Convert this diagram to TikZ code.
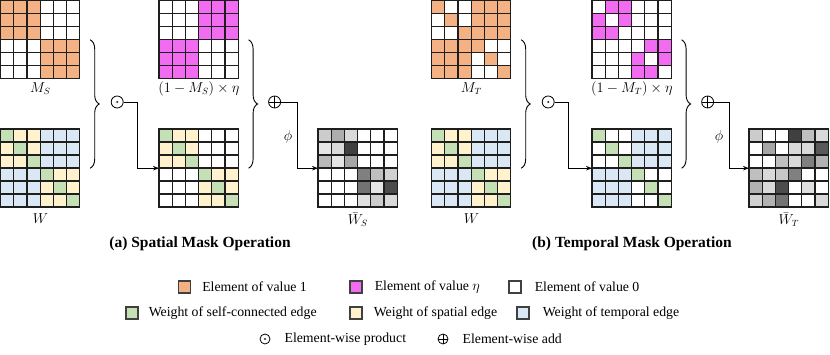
\documentclass[tikz,border=0pt]{standalone}
\usepackage{fontspec}
\setmainfont{Liberation Serif}
\usetikzlibrary{calc,decorations.pathreplacing,arrows.meta}
\definecolor{org}{RGB}{244,177,131}
\definecolor{pnk}{RGB}{242,108,242}
\definecolor{grn}{RGB}{197,224,180}
\definecolor{ylw}{RGB}{255,242,204}
\definecolor{blu}{RGB}{218,232,245}
\definecolor{dotc}{RGB}{30,40,90}
\definecolor{gline}{RGB}{30,30,30}
\newcommand{\cellgrid}[2]{%
  \foreach \rowlist [count=\ri from 0] in {#2} {%
    \foreach \cc [count=\ci from 0] in \rowlist {%
      \draw[cell,fill=\cc] ($(#1.north west)+(\ci*13.2,\ri*13)$) rectangle ++(13.2,13);
    }
  }%
}
\begin{document}
\begin{tikzpicture}[x=1pt,y=-1pt,
  cell/.style={draw=gline,line width=1.1pt},
  gridbox/.style={minimum width=79.2pt,minimum height=78pt,inner sep=0pt,anchor=north west},
  lbl/.style={font=\fontsize{13.5}{16}\selectfont,inner sep=0pt},
  captxt/.style={font=\fontsize{15.5}{18}\selectfont\bfseries,inner sep=0pt},
  legtxt/.style={font=\fontsize{13.8}{16}\selectfont,inner sep=0pt,anchor=west},
  swatch/.style={draw=black!75,line width=1.1pt,minimum width=12pt,minimum height=12pt,inner sep=0pt},
  bracestyle/.style={decorate,decoration={brace,amplitude=9pt},line width=0.9pt},
  conn/.style={line width=0.9pt,-{Stealth[length=6pt,width=4.5pt]}},
  odotsym/.style={circle,draw,line width=0.8pt,minimum size=#1,inner sep=0pt,
    path picture={\fill[dotc] (path picture bounding box.center) circle (1.1pt);}},
  oplussym/.style={circle,draw,line width=0.8pt,minimum size=#1,inner sep=0pt,
    path picture={\draw[line width=0.8pt] (path picture bounding box.north) -- (path picture bounding box.south)
      (path picture bounding box.west) -- (path picture bounding box.east);}}
]
\useasboundingbox (0,0) rectangle (830,355);
\fill[white] (0,0) rectangle (830,355);

% ---------- grid frames ----------
\node[gridbox] (gMS) at (0.6,0.6) {};
\node[gridbox] (gW1) at (0.6,129) {};
\node[gridbox] (gP1) at (159,0.6) {};
\node[gridbox] (gM1) at (159,129) {};
\node[gridbox] (gWS) at (318,129) {};
\node[gridbox] (gMT) at (431.6,0.6) {};
\node[gridbox] (gW2) at (431.6,129) {};
\node[gridbox] (gP2) at (592,0.6) {};
\node[gridbox] (gM2) at (592,129) {};
\node[gridbox] (gWT) at (749,129) {};

% ---------- spatial ----------
\cellgrid{gMS}{{org,org,org,white,white,white},{org,org,org,white,white,white},{org,org,org,white,white,white},
  {white,white,white,org,org,org},{white,white,white,org,org,org},{white,white,white,org,org,org}}
\cellgrid{gW1}{{grn,ylw,ylw,blu,blu,blu},{ylw,grn,ylw,blu,blu,blu},{ylw,ylw,grn,blu,blu,blu},
  {blu,blu,blu,grn,ylw,ylw},{blu,blu,blu,ylw,grn,ylw},{blu,blu,blu,ylw,ylw,grn}}
\cellgrid{gP1}{{white,white,white,pnk,pnk,pnk},{white,white,white,pnk,pnk,pnk},{white,white,white,pnk,pnk,pnk},
  {pnk,pnk,pnk,white,white,white},{pnk,pnk,pnk,white,white,white},{pnk,pnk,pnk,white,white,white}}
\cellgrid{gM1}{{grn,ylw,ylw,white,white,white},{ylw,grn,ylw,white,white,white},{ylw,ylw,grn,white,white,white},
  {white,white,white,grn,ylw,ylw},{white,white,white,ylw,grn,ylw},{white,white,white,ylw,ylw,grn}}
\cellgrid{gWS}{{black!20,black!32,black!15,white,white,white},{black!10,black!15,black!75,white,white,white},
  {black!28,black!10,black!35,white,white,white},{white,white,white,black!50,black!25,black!18},
  {white,white,white,black!55,black!10,black!70},{white,white,white,black!12,black!20,black!15}}

% ---------- temporal ----------
\cellgrid{gMT}{{org,white,white,org,org,org},{white,org,white,org,org,org},{white,white,org,org,org,org},
  {org,org,org,org,white,white},{org,org,org,white,org,white},{org,org,org,white,white,org}}
\cellgrid{gW2}{{grn,ylw,ylw,blu,blu,blu},{ylw,grn,ylw,blu,blu,blu},{ylw,ylw,grn,blu,blu,blu},
  {blu,blu,blu,grn,ylw,ylw},{blu,blu,blu,ylw,grn,ylw},{blu,blu,blu,ylw,ylw,grn}}
\cellgrid{gP2}{{white,pnk,pnk,white,white,white},{pnk,white,pnk,white,white,white},{pnk,pnk,white,white,white,white},
  {white,white,white,white,pnk,pnk},{white,white,white,pnk,white,pnk},{white,white,white,pnk,pnk,white}}
\cellgrid{gM2}{{grn,white,white,blu,blu,blu},{white,grn,white,blu,blu,blu},{white,white,grn,blu,blu,blu},
  {blu,blu,blu,grn,white,white},{blu,blu,blu,white,grn,white},{blu,blu,blu,white,white,grn}}
\cellgrid{gWT}{{black!20,white,white,black!75,black!25,black!15},{white,black!35,white,black!15,black!15,black!65},
  {white,white,black!25,black!15,black!50,black!30},{black!25,black!15,black!22,black!50,white,white},
  {black!30,black!15,black!70,white,black!12,white},{black!18,black!30,black!55,white,white,black!15}}

% ---------- labels ----------
\node[lbl] (lMS) at ($(gMS.south)+(0,10)$) {$M_S$};
\node[lbl] (lW1) at ($(gW1.south)+(0,11)$) {$W$};
\node[lbl] (lP1) at ($(gP1.south)+(0,9.5)$) {$(1-M_S)\times\eta$};
\node[lbl] (lWS) at ($(gWS.south)+(0,12.5)$) {$\bar{W}_S$};
\node[lbl] (lMT) at ($(gMT.south)+(0,10)$) {$M_T$};
\node[lbl] (lW2) at ($(gW2.south)+(0,11)$) {$W$};
\node[lbl] (lP2) at ($(gP2.south)+(0,9.5)$) {$(1-M_T)\times\eta$};
\node[lbl] (lWT) at ($(gWT.south)+(0,12.5)$) {$\bar{W}_T$};

% ---------- braces ----------
\draw[bracestyle] ($(gMS.east)+(10,0)$) -- ($(gW1.east)+(10,0)$);
\draw[bracestyle] ($(gP1.east)+(10,0)$) -- ($(gM1.east)+(10,0)$);
\draw[bracestyle] ($(gMT.east)+(10,0)$) -- ($(gW2.east)+(10,0)$);
\draw[bracestyle] ($(gP2.east)+(10,0)$) -- ($(gM2.east)+(10,0)$);

% ---------- operators ----------
\node[odotsym=12pt] (od1) at ($(gMS.east)!0.5!(gW1.east)+(37,-2)$) {};
\node[oplussym=12pt] (op1) at ($(gP1.east)!0.5!(gM1.east)+(36,-2)$) {};
\node[odotsym=12pt] (od2) at ($(gMT.east)!0.5!(gW2.east)+(37,-2)$) {};
\node[oplussym=12pt] (op2) at ($(gP2.east)!0.5!(gM2.east)+(36,-2)$) {};

% ---------- connectors ----------
\draw[conn] (od1.east) -- ++(14,0) |- (gM1.west);
\draw[conn] (op1.east) -- ++(16,0) |- (gWS.west);
\draw[conn] (od2.east) -- ++(14,0) |- (gM2.west);
\draw[conn] (op2.east) -- ++(15,0) |- (gWT.west);
\node[lbl] (phi1) at ($(op1.east)+(7,35)$) {$\phi$};
\node[lbl] (phi2) at ($(op2.east)+(5,35)$) {$\phi$};

% ---------- captions ----------
\node[captxt] (capa) at (200,244) {(a) Spatial Mask Operation};
\node[captxt] (capb) at (632,244) {(b) Temporal Mask Operation};

% ---------- legend ----------
\node[swatch,fill=org] (s1) at (184.5,287) {};
\node[legtxt] (t1) at ($(s1.east)+(11,0)$) {Element of value 1};
\node[swatch,fill=pnk] (s2) at (356,287) {};
\node[legtxt] (t2) at ($(s2.east)+(12,0)$) {Element of value $\eta$};
\node[swatch,fill=white] (s3) at (515,287) {};
\node[legtxt] (t3) at ($(s3.east)+(13,0)$) {Element of value 0};

\node[swatch,fill=grn] (s4) at (132,313) {};
\node[legtxt] (t4) at ($(s4.east)+(10,0)$) {Weight of self-connected edge};
\node[swatch,fill=ylw] (s5) at (356,313) {};
\node[legtxt] (t5) at ($(s5.east)+(11,0)$) {Weight of spatial edge};
\node[swatch,fill=blu] (s6) at (523,313) {};
\node[legtxt] (t6) at ($(s6.east)+(13,0)$) {Weight of temporal edge};

\node[odotsym=10pt] (s7) at (265,339) {};
\node[legtxt] (t7) at ($(s7.east)+(14,0)$) {Element-wise product};
\node[oplussym=10pt] (s8) at (443,339) {};
\node[legtxt] (t8) at ($(s8.east)+(14,0)$) {Element-wise add};
\end{tikzpicture}
\end{document}
